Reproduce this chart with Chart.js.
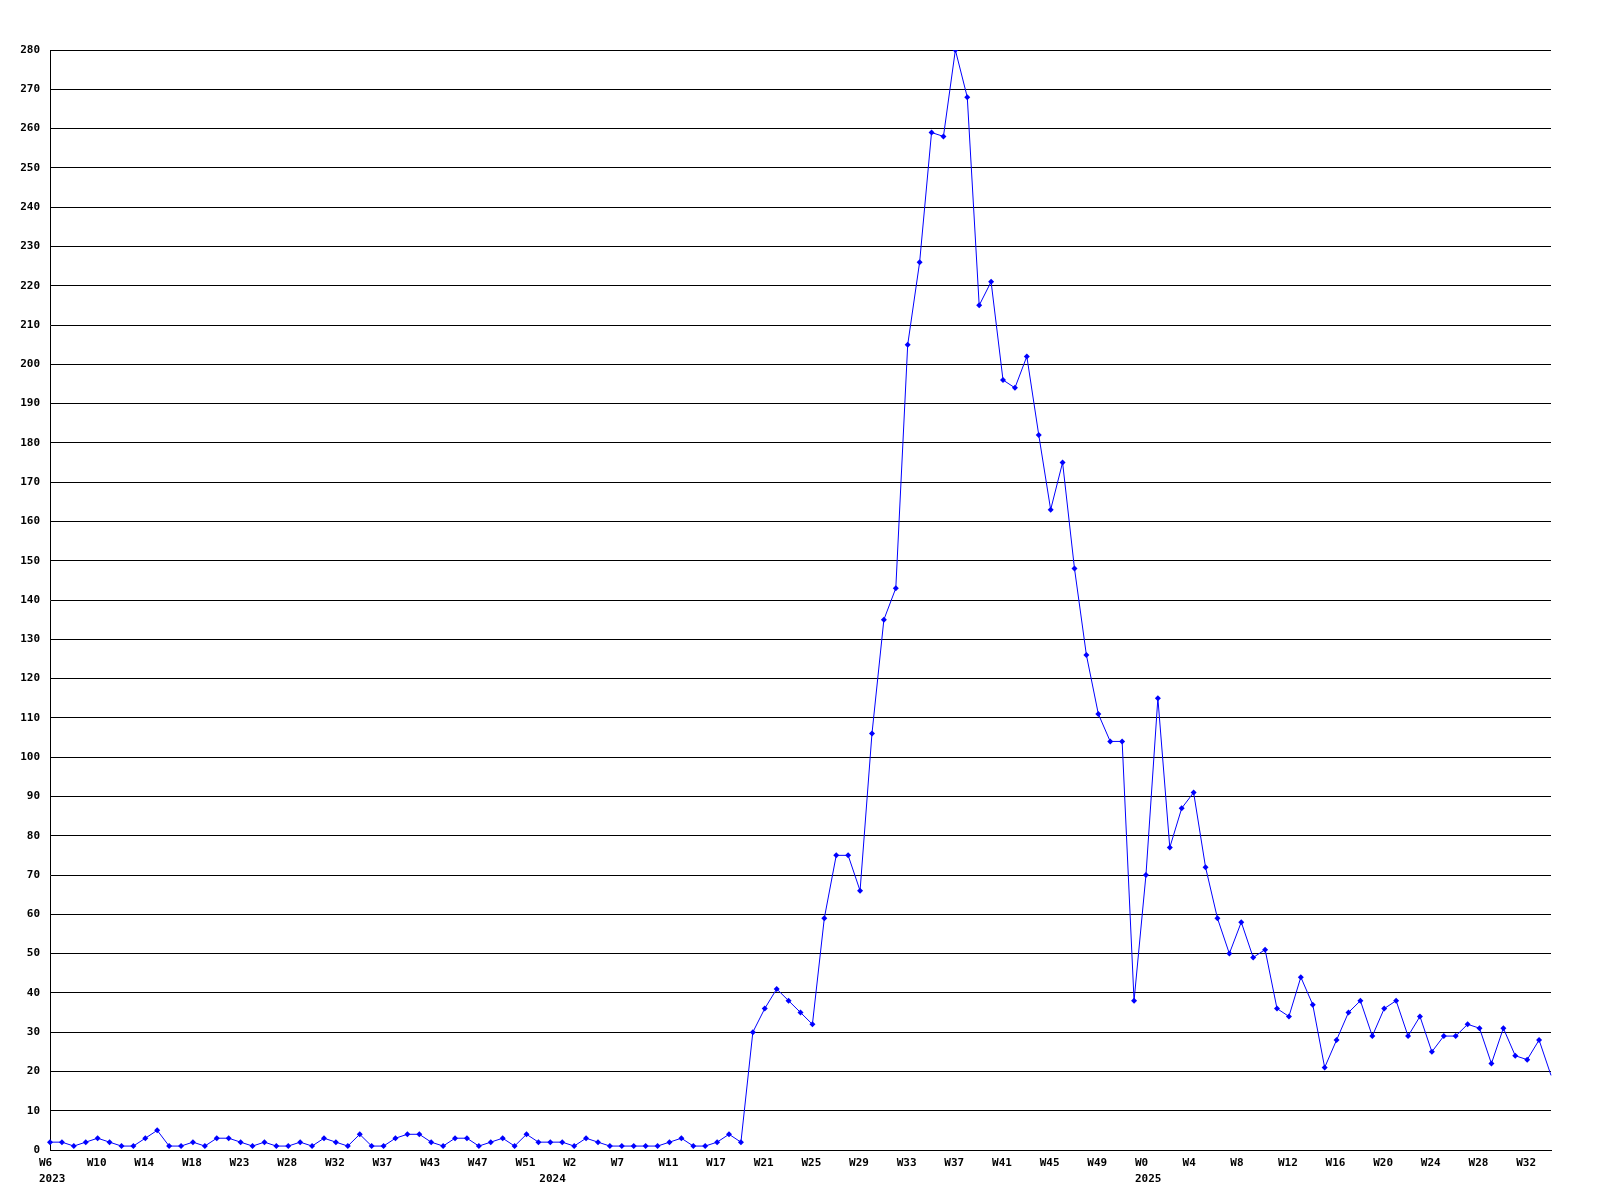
<!DOCTYPE html>
<html>
<head>
<meta charset="utf-8">
<title>Weekly count</title>
<script src="https://cdn.jsdelivr.net/npm/chart.js@4/dist/chart.umd.min.js"></script>
<style>
    html, body { margin: 0; padding: 0; background: #ffffff; }
    #chart { display: block; }
</style>
</head>
<body>
<canvas id="chart" width="1600" height="1200"></canvas>
<script>
// ============================================
// Data
// ============================================
// one value per week, oldest first
const counts = [
    2, 2, 1, 2, 3, 2, 1, 1, 3, 5,
    1, 1, 2, 1, 3, 3, 2, 1, 2, 1,
    1, 2, 1, 3, 2, 1, 4, 1, 1, 3,
    4, 4, 2, 1, 3, 3, 1, 2, 3, 1,
    4, 2, 2, 2, 1, 3, 2, 1, 1, 1,
    1, 1, 2, 3, 1, 1, 2, 4, 2, 30,
    36, 41, 38, 35, 32, 59, 75, 75, 66, 106,
    135, 143, 205, 226, 259, 258, 280, 268, 215, 221,
    196, 194, 202, 182, 163, 175, 148, 126, 111, 104,
    104, 38, 70, 115, 77, 87, 91, 72, 59, 50,
    58, 49, 51, 36, 34, 44, 37, 21, 28, 35,
    38, 29, 36, 38, 29, 34, 25, 29, 29, 32,
    31, 22, 31, 24, 23, 28, 19
];

// a week label is printed on every 4th point
const weekLabels = [
    'W6', 'W10', 'W14', 'W18', 'W23', 'W28', 'W32', 'W37', 'W43', 'W47', 'W51',
    'W2', 'W7', 'W11', 'W17', 'W21', 'W25', 'W29', 'W33', 'W37', 'W41', 'W45', 'W49',
    'W0', 'W4', 'W8', 'W12', 'W16', 'W20', 'W24', 'W28', 'W32'
];
const labelEvery = 4;

// year captions and the point where each year starts
const yearLabels = ['2023', '2024', '2025'];
const yearStart = [0, 42, 92];

const yMax = 280;
const yStep = 10;

// ============================================
// Helpers
// ============================================
function buildCategories() {
    return counts.map(function(v, i) {
        const lines = [i % labelEvery === 0 ? (weekLabels[i / labelEvery] || '') : ''];
        const y = yearStart.indexOf(i);
        if (y >= 0) lines.push(yearLabels[y]);
        return lines.length > 1 ? lines : lines[0];
    });
}

const axisFont = { family: "'DejaVu Sans Mono', 'Liberation Mono', monospace", size: 11, weight: 'bold' };

// ============================================
// Chart
// ============================================
document.addEventListener('DOMContentLoaded', function() {
    const ctx = document.getElementById('chart').getContext('2d');

    new Chart(ctx, {
        type: 'line',
        data: {
            labels: buildCategories(),
            datasets: [{
                data: counts,
                borderColor: '#0000ff',
                backgroundColor: '#0000ff',
                borderWidth: 1,
                tension: 0,
                fill: false,
                pointStyle: 'rectRot',
                pointRadius: function(c) { return c.dataIndex === counts.length - 1 ? 0 : 3; },
                pointBorderWidth: 0,
                pointBackgroundColor: '#0000ff'
            }]
        },
        options: {
            responsive: false,
            animation: false,
            devicePixelRatio: 1,
            layout: { padding: { top: 50, right: 49, left: 0, bottom: 0 } },
            plugins: {
                legend: { display: false },
                tooltip: { enabled: false }
            },
            scales: {
                x: {
                    offset: false,
                    grid: { display: false, drawTicks: false },
                    border: { display: true, color: '#000000', width: 1 },
                    afterFit: function(scale) { scale.height = 50; },
                    ticks: {
                        autoSkip: false,
                        maxRotation: 0,
                        minRotation: 0,
                        align: 'start',
                        labelOffset: -11,
                        padding: 5,
                        color: '#000000',
                        font: Object.assign({ lineHeight: 16 / 11 }, axisFont)
                    }
                },
                y: {
                    min: 0,
                    max: yMax,
                    grid: { color: '#000000', lineWidth: 1, drawTicks: false },
                    border: { display: true, color: '#000000', width: 1 },
                    afterFit: function(scale) { scale.width = 50; },
                    ticks: {
                        stepSize: yStep,
                        padding: 10,
                        color: '#000000',
                        font: axisFont
                    }
                }
            }
        }
    });
});
</script>
</body>
</html>
